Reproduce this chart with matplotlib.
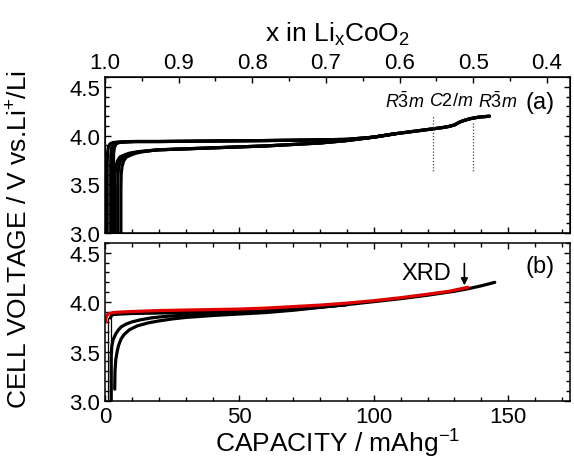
"""Charge/discharge curves of LixCoO2 cells, two stacked panels."""

import matplotlib.pyplot as plt
from matplotlib.ticker import MultipleLocator, FormatStrFormatter

plt.rcParams["font.family"] = ["Liberation Sans", "DejaVu Sans"]
plt.rcParams["mathtext.fontset"] = "custom"
plt.rcParams["mathtext.rm"] = "Liberation Sans"
plt.rcParams["mathtext.it"] = "Liberation Sans:italic"

FULL_CAP = 274.0  # mAh/g for x = 1 -> 0 in LixCoO2

# ---- panel (a): repeated cycles ----
# common high-capacity part of the charge curves
a_tail_cap = [20, 30, 40, 50, 60, 70, 80, 90, 100, 108, 115, 122, 126, 128,
              130, 132, 134, 136, 139, 143]
a_tail_v = [3.855, 3.865, 3.875, 3.885, 3.895, 3.91, 3.925, 3.95, 3.985,
            4.02, 4.045, 4.07, 4.085, 4.095, 4.11, 4.14, 4.16, 4.175, 4.19, 4.2]

a_chg1_cap = [3.6, 3.6, 3.7, 4.0, 4.6, 5.5, 7, 9, 12, 16] + a_tail_cap
a_chg1_v = [3.0, 3.45, 3.6, 3.68, 3.74, 3.78, 3.8, 3.82, 3.835, 3.845] + a_tail_v
a_chg2_cap = [4.7, 4.7, 4.8, 5.1, 5.7, 6.6, 8, 10, 13, 17] + a_tail_cap
a_chg2_v = [3.0, 3.45, 3.6, 3.68, 3.74, 3.78, 3.8, 3.82, 3.835, 3.848] + a_tail_v
a_chg3_cap = [5.9, 5.9, 6.0, 6.3, 6.9, 7.9, 9.5, 11.5, 14, 18] + a_tail_cap
a_chg3_v = [3.0, 3.45, 3.6, 3.68, 3.74, 3.78, 3.8, 3.82, 3.835, 3.85] + a_tail_v

a_dis1_cap = [0.8, 0.8, 0.9, 1.2, 1.8, 3, 5, 10, 20, 40, 60, 75, 90, 100, 108]
a_dis1_v = [3.0, 3.7, 3.82, 3.88, 3.915, 3.93, 3.935, 3.94, 3.94, 3.945,
            3.95, 3.955, 3.962, 3.985, 4.02]
a_dis2_cap = [2.1, 2.1, 2.2, 2.5, 3.1, 4.3, 6.3, 11, 20, 40, 60, 75, 90, 100, 108]
a_dis2_v = [3.0, 3.7, 3.82, 3.88, 3.915, 3.93, 3.935, 3.94, 3.94, 3.945,
            3.95, 3.955, 3.962, 3.985, 4.02]
a_dis3_cap = [3.1, 3.1, 3.2, 3.5, 4.1, 5.3, 7.3, 12, 20, 40, 60, 75, 90, 100, 108]
a_dis3_v = [3.0, 3.7, 3.82, 3.88, 3.915, 3.93, 3.935, 3.94, 3.94, 3.945,
            3.95, 3.955, 3.962, 3.985, 4.02]

# phase boundaries (x in LixCoO2) and their labels
phase_x = [0.555, 0.5]
phase_top_v = [4.2, 4.15]
phase_bot_v = [3.64, 3.64]
phase_labels = [r"$\mathit{R\bar{3}m}$", r"$\mathit{C2/m}$", r"$\mathit{R\bar{3}m}$"]
phase_label_cap = [111.5, 128.7, 146.2]

# ---- panel (b) ----
b_red_cap = [0.3, 0.3, 0.8, 1.5, 3, 6, 10, 20, 30, 40, 50, 60, 70, 80, 90,
             100, 110, 120, 128, 135]
b_red_v = [3.8, 3.84, 3.87, 3.885, 3.895, 3.9, 3.905, 3.915, 3.92, 3.925,
           3.93, 3.94, 3.955, 3.97, 3.99, 4.015, 4.045, 4.08, 4.11, 4.15]

b_chg_cap = [2, 2.5, 3.5, 6, 10, 20, 30, 40, 50, 60, 70, 80, 90, 100, 110,
             120, 130, 135, 140, 145]
b_chg_v = [3.84, 3.87, 3.875, 3.88, 3.885, 3.89, 3.895, 3.9, 3.905, 3.915,
           3.93, 3.95, 3.975, 4.005, 4.035, 4.07, 4.11, 4.135, 4.165, 4.2]

b_disA_cap = [2.3, 2.3, 2.5, 3, 4, 5, 6, 8, 10, 13, 17, 22, 30, 40, 50, 60,
              70, 80, 90]
b_disA_v = [3.0, 3.45, 3.55, 3.62, 3.68, 3.72, 3.75, 3.78, 3.8, 3.82, 3.84,
            3.855, 3.87, 3.88, 3.89, 3.905, 3.925, 3.95, 3.975]
b_disB_cap = [3.6, 3.7, 4, 4.5, 5, 6, 7, 9, 12, 16, 20, 25, 30, 40, 50, 60,
              70, 80, 90]
b_disB_v = [3.12, 3.3, 3.42, 3.5, 3.56, 3.63, 3.67, 3.72, 3.76, 3.79, 3.81,
            3.83, 3.845, 3.865, 3.88, 3.895, 3.918, 3.947, 3.975]

b_box_cap = [1.0, 1.0, 2.2, 2.2]
b_box_v = [3.0, 3.84, 3.84, 3.0]

xrd_cap = 133.7
xrd_v = [4.39, 4.17]

XMAX = 173
YLIM = (3.0, 4.6)
TICK_FS = 16
LABEL_FS = 19


def style_axes(ax):
    ax.set_xlim(0, XMAX)
    ax.set_ylim(*YLIM)
    ax.xaxis.set_major_locator(MultipleLocator(50))
    ax.xaxis.set_minor_locator(MultipleLocator(10))
    ax.yaxis.set_major_locator(MultipleLocator(0.5))
    ax.yaxis.set_minor_locator(MultipleLocator(0.1))
    ax.yaxis.set_major_formatter(FormatStrFormatter("%.1f"))
    ax.tick_params(which="both", direction="in", top=True, right=True,
                   width=1.0, labelsize=TICK_FS)
    ax.tick_params(which="major", length=4.5)
    ax.tick_params(which="minor", length=2.8)
    for s in ax.spines.values():
        s.set_linewidth(1.1)


fig = plt.figure(figsize=(5.74, 4.6), dpi=100)
ax_a = fig.add_axes([0.183, 0.491, 0.810, 0.339])
ax_b = fig.add_axes([0.183, 0.126, 0.810, 0.344])

line_kw = dict(color="black", lw=2.3, solid_capstyle="round", solid_joinstyle="round")

# panel (a)
for cap, v in [(a_chg1_cap, a_chg1_v), (a_chg2_cap, a_chg2_v), (a_chg3_cap, a_chg3_v),
               (a_dis1_cap, a_dis1_v), (a_dis2_cap, a_dis2_v), (a_dis3_cap, a_dis3_v)]:
    ax_a.plot(cap, v, **line_kw)

for px, vt, vb in zip(phase_x, phase_top_v, phase_bot_v):
    c = (1 - px) * FULL_CAP
    ax_a.plot([c, c], [vb, vt], color="#444444", lw=0.9, ls=(0, (1, 1.5)))
for lab, c in zip(phase_labels, phase_label_cap):
    ax_a.text(c, 4.36, lab, ha="center", va="center", fontsize=13)
ax_a.text(162, 4.35, "(a)", ha="center", va="center", fontsize=17)

style_axes(ax_a)
ax_a.tick_params(labelbottom=False, top=False)

top = ax_a.twiny()
top.set_xlim(1.0, 1.0 - XMAX / FULL_CAP)
top.xaxis.set_major_locator(MultipleLocator(0.1))
top.xaxis.set_minor_locator(MultipleLocator(0.05))
top.xaxis.set_major_formatter(FormatStrFormatter("%.1f"))
top.tick_params(which="both", direction="in", width=1.0, labelsize=TICK_FS, pad=3)
top.tick_params(which="major", length=4.5)
top.tick_params(which="minor", length=2.8)
top.set_xlabel(r"x in Li$_{\rm x}$CoO$_{\rm 2}$", fontsize=LABEL_FS, labelpad=8)

# panel (b)
ax_b.plot(b_box_cap, b_box_v, color="black", lw=0.9)
for cap, v in [(b_chg_cap, b_chg_v), (b_disA_cap, b_disA_v), (b_disB_cap, b_disB_v)]:
    ax_b.plot(cap, v, **line_kw)
ax_b.plot(b_red_cap, b_red_v, color="#e00000", lw=2.3, solid_capstyle="round")

ax_b.annotate("", xy=(xrd_cap, xrd_v[1]), xytext=(xrd_cap, xrd_v[0]),
              arrowprops=dict(arrowstyle="-|>", color="black", lw=1.2,
                              mutation_scale=10, shrinkA=0, shrinkB=0))
ax_b.text(119.5, 4.29, "XRD", ha="center", va="center", fontsize=17)
ax_b.text(162, 4.37, "(b)", ha="center", va="center", fontsize=17)

style_axes(ax_b)
ax_b.set_xlabel("CAPACITY / mAhg$^{-1}$", fontsize=LABEL_FS, labelpad=0)

fig.text(0.035, 0.48, "CELL VOLTAGE / V vs.Li$^{+}$/Li", rotation=90,
         ha="center", va="center", fontsize=LABEL_FS)

fig.savefig("out.png", dpi=100)
